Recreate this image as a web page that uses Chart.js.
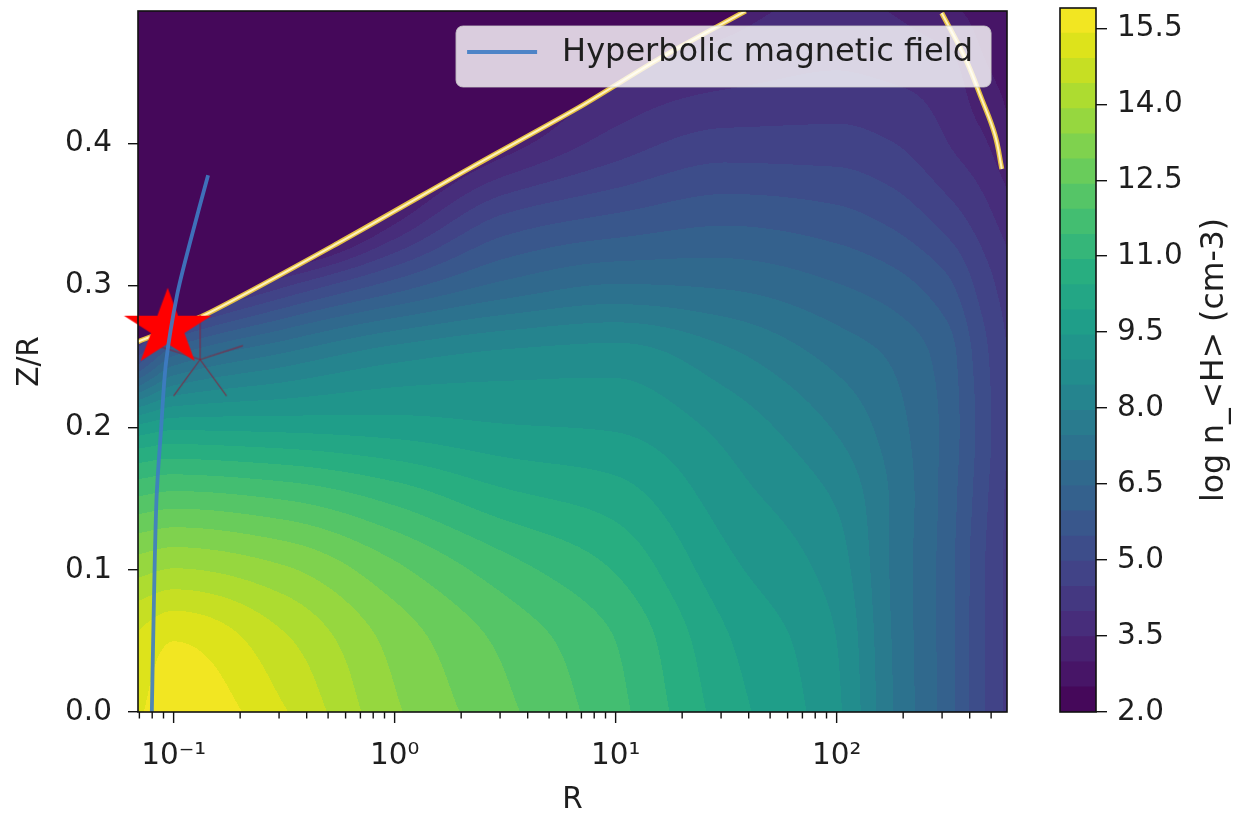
<!DOCTYPE html>
<html>
<head>
<meta charset="utf-8">
<script src="https://cdn.jsdelivr.net/npm/chart.js@4.4.1/dist/chart.umd.min.js"></script>
<style>
  html, body { margin: 0; padding: 0; background: #fff; }
  #wrap { position: relative; width: 1235px; height: 823px; }
  #main { position: absolute; left: 0; top: 0; }
  #cbar { position: absolute; left: 1040px; top: 0; }
</style>
</head>
<body>
<div id="wrap">
  <canvas id="main" width="1235" height="823"></canvas>
  <canvas id="cbar" width="195" height="823"></canvas>
</div>
<script>
// ---- values ----
// grid columns (R) and rows (Z/R) of the density map
const rCols = [0.069, 0.1, 0.316, 1, 3.16, 10, 31.6, 100, 178, 316, 450, 630];
const zRows = [0, 0.05, 0.1, 0.15, 0.2, 0.25, 0.3, 0.35, 0.4, 0.45, 0.5];
// log n_<H> along each Z/R row, one value per rCols entry
const nZ000 = [15.3, 15.85, 14.95, 13.5, 12.55, 11.6, 10.2, 9.05, 7.5, 6.2, 5.1, 4.2];
const nZ005 = [15.0, 15.4, 14.5, 13.25, 12.3, 11.43, 10.0, 8.95, 7.45, 6.2, 5.1, 4.2];
const nZ010 = [13.75, 13.95, 13.5, 12.55, 11.65, 10.9, 9.6, 8.7, 7.4, 6.2, 5.1, 4.2];
const nZ015 = [12.0, 12.15, 11.9, 11.3, 10.6, 10.2, 9.2, 8.4, 7.4, 6.25, 5.2, 4.2];
const nZ020 = [9.6, 9.85, 9.8, 9.7, 9.5, 9.4, 8.8, 7.9, 7.2, 6.3, 5.3, 4.3];
const nZ025 = [5.0, 6.5, 7.6, 8.3, 8.6, 8.7, 8.1, 7.3, 6.9, 6.2, 5.2, 4.3];
const nZ030 = [1.5, 2.5, 4.4, 5.7, 6.6, 7.0, 6.9, 6.5, 6.2, 5.6, 4.8, 4.1];
const nZ035 = [0, 0, 0.8, 3.2, 5.0, 5.5, 5.8, 5.6, 5.3, 4.7, 4.2, 3.6];
const nZ040 = [0, 0, 0, 1.5, 3.2, 4.2, 4.7, 4.7, 4.5, 4.0, 3.6, 3.0];
const nZ045 = [0, 0, 0, 0, 2.0, 3.4, 3.8, 4.0, 3.9, 3.7, 3.1, 2.8];
const nZ050 = [0, 0, 0, 0, 0, 2.6, 3.2, 3.6, 3.4, 3.0, 2.8, 2.6];
const densityRows = [nZ000, nZ005, nZ010, nZ015, nZ020, nZ025, nZ030, nZ035, nZ040, nZ045, nZ050];
const floorValue = 2.0;   // value above the yellow surface line

// yellow contour lines
const surfLeftR = [0.0691, 0.1389, 0.556, 2.225, 6.79, 15.97, 38.75];
const surfLeftZ = [0.2606, 0.2795, 0.330, 0.3832, 0.4252, 0.4602, 0.4932];
const surfRightR = [299, 381, 454, 521, 559];
const surfRightZ = [0.4918, 0.4602, 0.431, 0.4058, 0.382];

// hyperbolic magnetic field line
const fieldR = [0.0797, 0.0808, 0.0836, 0.0878, 0.0925, 0.1037, 0.1188, 0.1432];
const fieldZ = [0, 0.0504, 0.1485, 0.1996, 0.2466, 0.2935, 0.3307, 0.3776];

// markers
const starPoint = {x: 0.094, y: 0.270};
const asteriskPoint = {x: 0.1318, y: 0.248};

// axes
const xMin = 0.069, xMax = 590;
const yMin = 0, yMax = 0.4932;
const xMajorTicks = [0.1, 1, 10, 100];
const xTickLabels = ['10\u207B\u00B9', '10\u2070', '10\u00B9', '10\u00B2'];
const yTicks = [0, 0.1, 0.2, 0.3, 0.4];
const levelMin = 2.0, levelMax = 15.9, nBands = 28;
const cbTicks = [2.0, 3.5, 5.0, 6.5, 8.0, 9.5, 11.0, 12.5, 14.0, 15.5];

const FAMILY = '"DejaVu Sans", "Liberation Sans", sans-serif';
const TXT = '#1e1e1e';
const TICK_SIZE = 29.5;
const FIELD_BLUE = 'rgba(62,124,196,0.9)';

// ---- colormap ----
const viridis = ['#440154','#48186a','#472d7b','#424086','#3b528b','#33638d','#2c728e','#26828e',
  '#21918c','#1fa088','#28ae80','#3fbc73','#5ec962','#84d44b','#addc30','#d8e219','#fde725'];
const viridisRgb = viridis.map(h => [parseInt(h.slice(1,3),16), parseInt(h.slice(3,5),16), parseInt(h.slice(5,7),16)]);
function cmap(t){
  t = Math.max(0, Math.min(1, t));
  const s = t*(viridisRgb.length-1);
  const i = Math.min(Math.floor(s), viridisRgb.length-2), f = s - i;
  const a = viridisRgb[i], b = viridisRgb[i+1];
  return [0,1,2].map(k => Math.round(a[k] + (b[k]-a[k])*f));
}
const levels = [];
for (let i=0;i<=nBands;i++) levels.push(levelMin + (levelMax-levelMin)*i/nBands);
const bandRgb = [];
for (let i=0;i<nBands;i++) bandRgb.push(cmap((i+0.5)/nBands));
const rgbStr = c => `rgb(${c[0]},${c[1]},${c[2]})`;

// ---- helpers ----
function locate(arr, v){
  let k = 0;
  while (k < arr.length-2 && v > arr[k+1]) k++;
  const f = (v - arr[k])/(arr[k+1]-arr[k]);
  return [k, Math.max(0, Math.min(1, f))];
}
// monotone cubic slopes (Fritsch-Butland) for smooth shading between grid nodes
function slopes(xs, ys){
  const n = xs.length, d = [], m = new Array(n);
  for (let i=0;i<n-1;i++) d.push((ys[i+1]-ys[i])/(xs[i+1]-xs[i]));
  m[0] = d[0]; m[n-1] = d[n-2];
  for (let i=1;i<n-1;i++){
    if (d[i-1]*d[i] <= 0) { m[i] = 0; continue; }
    const h0 = xs[i]-xs[i-1], h1 = xs[i+1]-xs[i];
    const w1 = 2*h1 + h0, w2 = h1 + 2*h0;
    m[i] = (w1+w2)/(w1/d[i-1] + w2/d[i]);
  }
  return m;
}
function basis(xs, x){
  const [k, t] = locate(xs, x);
  const h = xs[k+1]-xs[k], t2 = t*t, t3 = t2*t;
  return {k, a: 2*t3-3*t2+1, b: (t3-2*t2+t)*h, c: -2*t3+3*t2, d: (t3-t2)*h};
}
const evalB = (B, ys, m) => B.a*ys[B.k] + B.b*m[B.k] + B.c*ys[B.k+1] + B.d*m[B.k+1];

function lineZAt(rs, zs, R){
  const lr = Math.log10(R), lrs = rs.map(Math.log10);
  if (lr > lrs[lrs.length-1]) return Infinity;
  const [k, f] = locate(lrs, lr);
  return zs[k] + (zs[k+1]-zs[k])*f;
}
const pts = (xs, ys) => xs.map((x,i) => ({x, y: ys[i]}));

function makeStar(rx, ry, color){
  const c = document.createElement('canvas');
  c.width = Math.round(2*rx)+4; c.height = Math.round(2*ry)+4;
  const g = c.getContext('2d');
  g.fillStyle = color;
  g.beginPath();
  for (let k=0;k<10;k++){
    const ang = -Math.PI/2 + k*Math.PI/5;
    const rr = k % 2 ? 0.381966 : 1;
    const px = c.width/2 + Math.cos(ang)*rx*rr, py = c.height/2 + Math.sin(ang)*ry*rr;
    k ? g.lineTo(px, py) : g.moveTo(px, py);
  }
  g.closePath(); g.fill();
  return c;
}
function makeAsterisk(len, color){
  const c = document.createElement('canvas');
  c.width = c.height = Math.round(2*len)+4;
  const g = c.getContext('2d');
  g.strokeStyle = color; g.lineWidth = 1.2;
  for (let k=0;k<5;k++){
    const ang = -Math.PI/2 + k*2*Math.PI/5;
    g.beginPath(); g.moveTo(c.width/2, c.height/2);
    g.lineTo(c.width/2 + Math.cos(ang)*len, c.height/2 + Math.sin(ang)*len);
    g.stroke();
  }
  return c;
}
const starImg = makeStar(46, 40.5, '#ff0000');
const asteriskImg = makeAsterisk(45, 'rgba(140,30,55,0.75)');

// ---- plugins ----
const fieldMap = {
  id: 'fieldMap',
  beforeDatasetsDraw(chart){
    const {ctx, chartArea: a, scales: {x, y}} = chart;
    const w = Math.round(a.right - a.left), h = Math.round(a.bottom - a.top);
    const off = document.createElement('canvas');
    off.width = w; off.height = h;
    const octx = off.getContext('2d');
    const img = octx.createImageData(w, h);
    const logCols = rCols.map(Math.log10);
    const rowSlopes = densityRows.map(r => slopes(logCols, r));
    // values of each pixel column at every grid row, plus z-slopes
    const colV = [], colM = [], surf = [];
    for (let i=0;i<w;i++){
      const R = x.getValueForPixel(a.left + i + 0.5);
      const B = basis(logCols, Math.log10(R));
      const vals = densityRows.map((r, j) => evalB(B, r, rowSlopes[j]));
      colV.push(vals); colM.push(slopes(zRows, vals));
      surf.push(lineZAt(surfLeftR, surfLeftZ, R));
    }
    const step = (levelMax - levelMin)/nBands;
    for (let j=0;j<h;j++){
      const Z = y.getValueForPixel(a.top + j + 0.5);
      const B = basis(zRows, Z);
      for (let i=0;i<w;i++){
        const v = Z > surf[i] ? floorValue : evalB(B, colV[i], colM[i]);
        let b = Math.floor((v - levelMin)/step);
        b = Math.max(0, Math.min(nBands-1, b));
        const c = bandRgb[b], p = (j*w + i)*4;
        img.data[p] = c[0]; img.data[p+1] = c[1]; img.data[p+2] = c[2]; img.data[p+3] = 255;
      }
    }
    octx.putImageData(img, 0, 0);
    ctx.save();
    ctx.beginPath(); ctx.rect(a.left, a.top, a.right-a.left, a.bottom-a.top); ctx.clip();
    ctx.filter = 'blur(0.6px)';
    ctx.drawImage(off, a.left, a.top);
    ctx.restore();
  }
};

const frameAndLegend = {
  id: 'frameAndLegend',
  afterDatasetsDraw(chart){
    const {ctx, chartArea: a, scales: {x}} = chart;
    // legend
    ctx.save();
    ctx.font = `32px ${FAMILY}`;
    const label = 'Hyperbolic magnetic field';
    const tw = ctx.measureText(label).width;
    const bw = 11 + 70 + 25 + tw + 18, bh = 61;
    const bx = a.right - 16 - bw, by = a.top + 15;
    ctx.beginPath();
    ctx.roundRect(bx, by, bw, bh, 7);
    ctx.fillStyle = 'rgba(255,255,255,0.8)';
    ctx.fill();
    ctx.strokeStyle = 'rgba(204,204,204,0.8)';
    ctx.lineWidth = 1.2;
    ctx.stroke();
    ctx.beginPath();
    ctx.moveTo(bx + 11, by + 26); ctx.lineTo(bx + 81, by + 26);
    ctx.strokeStyle = FIELD_BLUE; ctx.lineWidth = 4;
    ctx.stroke();
    ctx.fillStyle = TXT; ctx.textBaseline = 'middle'; ctx.textAlign = 'left';
    ctx.fillText(label, bx + 106, by + 27);
    ctx.restore();

    // spines
    ctx.save();
    ctx.strokeStyle = '#111'; ctx.lineWidth = 1.6;
    ctx.strokeRect(a.left, a.top, a.right - a.left, a.bottom - a.top);
    // x ticks: majors long, minors short
    ctx.lineWidth = 1.4;
    for (let dec = 0.01; dec <= 1000; dec *= 10){
      for (let m=1;m<=9;m++){
        const v = dec*m;
        if (v < xMin || v > xMax) continue;
        const px = x.getPixelForValue(v);
        const len = m === 1 ? 11 : 6.5;
        ctx.beginPath(); ctx.moveTo(px, a.bottom); ctx.lineTo(px, a.bottom + len); ctx.stroke();
      }
    }
    ctx.restore();
  }
};

// ---- main chart ----
new Chart(document.getElementById('main'), {
  type: 'scatter',
  data: {
    datasets: [
      {label: 'Hyperbolic magnetic field', data: pts(fieldR, fieldZ), showLine: true,
       borderColor: FIELD_BLUE, borderWidth: 3.8, pointRadius: 0, tension: 0.3, order: 0},
      {label: 'star', data: [starPoint], pointStyle: starImg, pointRadius: 10, clip: false, order: 1},
      {label: 'asterisk', data: [asteriskPoint], pointStyle: asteriskImg, pointRadius: 10, clip: false, order: 2},
      {label: 'surf-l-core', data: pts(surfLeftR, surfLeftZ), showLine: true, borderColor: '#fff3bd',
       borderWidth: 2, pointRadius: 0, tension: 0.25, order: 3},
      {label: 'surf-r-core', data: pts(surfRightR, surfRightZ), showLine: true, borderColor: '#fff3bd',
       borderWidth: 2, pointRadius: 0, tension: 0.4, order: 3},
      {label: 'surf-l', data: pts(surfLeftR, surfLeftZ), showLine: true, borderColor: '#e6c044',
       borderWidth: 5, pointRadius: 0, tension: 0.25, order: 4},
      {label: 'surf-r', data: pts(surfRightR, surfRightZ), showLine: true, borderColor: '#e6c044',
       borderWidth: 5, pointRadius: 0, tension: 0.4, order: 4}
    ]
  },
  options: {
    responsive: false, animation: false, events: [],
    layout: {padding: {left: 0, top: 8, right: 228, bottom: 0}},
    plugins: {legend: {display: false}, tooltip: {enabled: false}},
    scales: {
      x: {
        type: 'logarithmic', min: xMin, max: xMax,
        afterBuildTicks: s => {
          const t = [];
          for (let dec = 0.01; dec <= 1000; dec *= 10)
            for (let m=1;m<=9;m++){ const v = dec*m; if (v >= xMin && v <= xMax) t.push({value: v}); }
          s.ticks = t;
        },
        afterFit: s => { s.height = 111; s.paddingLeft = 0; s.paddingRight = 0; },
        grid: {display: false, drawTicks: false},
        border: {display: false},
        ticks: {
          autoSkip: false, maxRotation: 0, padding: 27, color: TXT,
          font: {family: FAMILY, size: TICK_SIZE},
          callback: v => {
            const i = xMajorTicks.findIndex(m => Math.abs(m - v)/m < 1e-6);
            return i >= 0 ? xTickLabels[i] : '';
          }
        },
        title: {display: true, text: 'R', color: TXT, font: {family: FAMILY, size: TICK_SIZE}, padding: {top: 0, bottom: 5}}
      },
      y: {
        min: yMin, max: yMax,
        afterBuildTicks: s => { s.ticks = yTicks.map(v => ({value: v})); },
        afterFit: s => { s.width = 138; s.paddingTop = 0; s.paddingBottom = 0; },
        grid: {drawOnChartArea: false, drawTicks: true, tickLength: 10, color: '#111', lineWidth: 1.4},
        border: {display: false},
        ticks: {padding: 16, color: TXT, font: {family: FAMILY, size: TICK_SIZE}, callback: v => v.toFixed(1)},
        title: {display: true, text: 'Z/R', color: TXT, font: {family: FAMILY, size: TICK_SIZE}, padding: {top: 13, bottom: 0}}
      }
    }
  },
  plugins: [fieldMap, frameAndLegend]
});

// ---- colorbar ----
const cbDecor = {
  id: 'cbDecor',
  afterDatasetsDraw(chart){
    const {ctx, chartArea: a} = chart;
    ctx.save();
    ctx.strokeStyle = '#111'; ctx.lineWidth = 1.6;
    ctx.strokeRect(a.left, a.top, a.right - a.left, a.bottom - a.top);
    ctx.translate(175, (a.top + a.bottom)/2);
    ctx.rotate(-Math.PI/2);
    ctx.font = `31.5px ${FAMILY}`;
    ctx.fillStyle = TXT; ctx.textAlign = 'center'; ctx.textBaseline = 'middle';
    ctx.fillText('log n_<H> (cm-3)', 0, 0);
    ctx.restore();
  }
};

new Chart(document.getElementById('cbar'), {
  type: 'bar',
  data: {
    labels: [''],
    datasets: bandRgb.map((c, i) => ({
      data: [[levels[i], levels[i+1]]], backgroundColor: rgbStr(c), borderWidth: 0,
      barPercentage: 1, categoryPercentage: 1, grouped: false
    }))
  },
  options: {
    responsive: false, animation: false, events: [],
    layout: {padding: {left: 20, top: 8, right: 0, bottom: 111}},
    plugins: {legend: {display: false}, tooltip: {enabled: false}},
    scales: {
      x: {display: false},
      y: {
        position: 'right', min: levelMin, max: levelMax,
        afterBuildTicks: s => { s.ticks = cbTicks.map(v => ({value: v})); },
        afterFit: s => { s.width = 139; s.paddingTop = 0; s.paddingBottom = 0; },
        grid: {drawOnChartArea: false, tickLength: 11, color: '#111', lineWidth: 1.4},
        border: {display: false},
        ticks: {padding: 10, color: TXT, font: {family: FAMILY, size: TICK_SIZE}, callback: v => v.toFixed(1)}
      }
    }
  },
  plugins: [cbDecor]
});
</script>
</body>
</html>
